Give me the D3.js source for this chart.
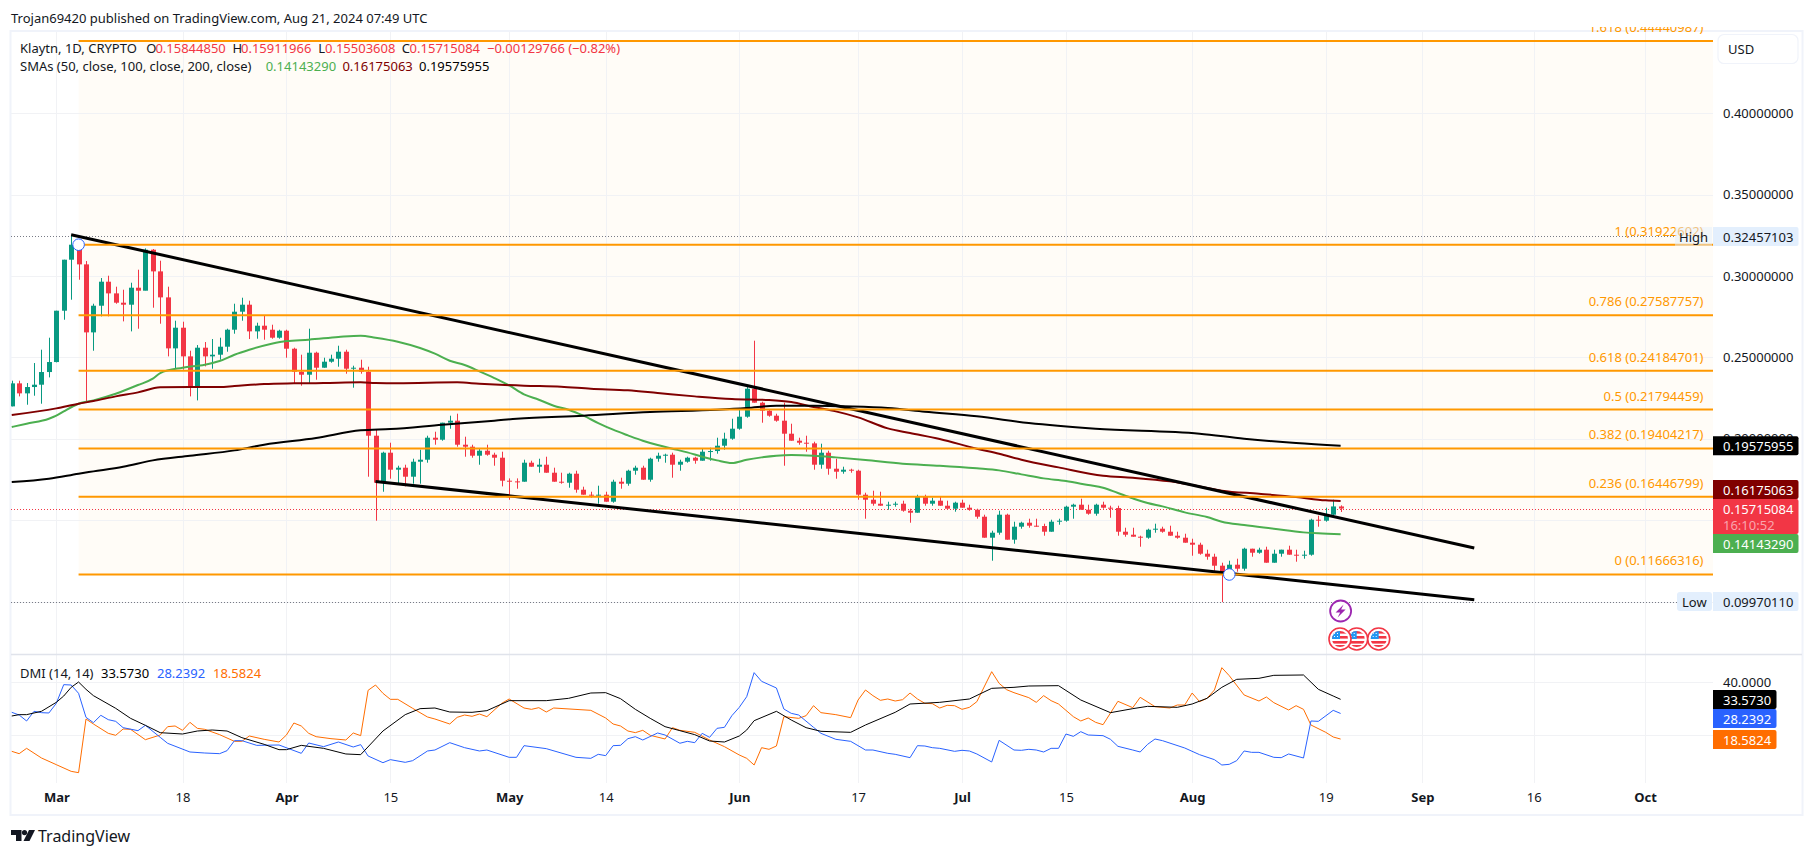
<!DOCTYPE html>
<html><head><meta charset="utf-8">
<script src="https://cdn.jsdelivr.net/npm/d3@7/dist/d3.min.js"></script>
<style>html,body{margin:0;padding:0;background:#fff}svg{display:block}text{font-family:"Noto Sans",Roboto,sans-serif;font-size:13px;fill:#131722}</style>
</head><body><div id="c"></div>
<script>
// ---------- data ----------
const firstCandleDate = "2024-02-24";
const firstOpen = 0.21992;
const closes = [.23405,.22791,.23180,.23323,.24101,.24715,.27868,.31001,.31922,.30714,.26537,.28175,.29650,.28933,.28360,.28237,.29281,.29097,.31615,.30284,.28687,.25555,.26824,.25063,.23200,.25596,.25063,.25166,.25657,.26701,.27807,.28237,.26599,.26947,.26701,.26210,.26640,.25534,.24121,.23937,.25288,.24367,.24736,.24920,.25350,.24306,.24367,.24121,.20190,.17303,.19146,.18102,.18225,.17672,.18593,.18716,.20067,.19944,.20989,.21112,.19637,.19515,.18962,.19269,.19023,.18839,.17426,.17385,.17365,.18532,.18286,.18409,.17917,.17365,.17303,.17856,.16873,.16566,.16525,.16566,.16136,.17365,.17242,.18040,.18225,.17487,.18777,.18962,.19023,.18409,.18593,.18839,.18655,.19207,.19248,.19576,.20006,.20620,.21357,.23077,.22217,.21726,.21419,.21112,.20313,.19883,.19760,.19719,.18409,.19146,.18163,.17979,.18102,.18040,.16566,.16259,.16013,.15890,.15952,.16013,.15583,.15460,.16443,.16013,.16198,.15890,.15706,.16075,.15768,.15645,.15215,.13925,.14232,.15338,.13802,.14601,.14846,.14662,.14642,.14293,.14908,.14969,.15829,.15952,.15645,.15399,.15952,.15768,.15747,.14293,.14109,.13986,.13925,.14416,.14478,.14293,.14048,.13925,.13618,.13495,.12942,.12758,.12205,.11795,.12266,.12021,.13249,.13003,.13188,.12389,.12942,.13188,.12881,.12860,.12881,.15030,.14969,.15338,.15845,.15715];
const highs = [.23569,.23569,.23425,.24654,.25473,.26210,.27868,.31001,.32457,.31922,.30919,.28298,.29875,.30018,.29343,.29158,.29588,.30387,.31697,.31656,.30940,.29343,.27254,.27193,.25411,.25759,.25944,.26128,.26210,.26763,.28298,.28667,.28483,.27131,.27561,.27008,.26701,.26701,.25596,.25166,.26763,.25350,.24981,.25166,.25718,.25473,.24490,.24858,.24429,.20600,.19207,.19760,.18347,.18409,.18777,.19330,.20190,.20436,.20989,.21419,.21542,.20129,.19637,.19392,.19637,.19146,.19207,.17569,.17569,.18716,.18655,.18777,.18900,.18225,.17917,.17917,.18040,.17058,.16750,.17119,.16750,.17487,.17610,.18102,.18347,.18347,.18839,.19146,.19085,.19146,.18716,.18900,.18900,.19392,.19453,.20067,.20374,.21234,.21787,.23200,.26026,.22279,.21787,.21542,.22217,.20927,.20067,.20190,.19822,.19699,.19269,.18777,.18286,.18163,.18102,.16689,.16812,.16750,.16136,.16136,.16198,.15706,.16566,.16566,.16382,.16443,.16198,.16136,.16259,.15952,.15706,.15338,.14355,.15583,.15399,.14908,.14908,.15092,.15092,.14785,.15030,.15092,.15890,.16013,.16320,.15952,.16013,.16136,.15890,.15890,.14539,.14539,.14048,.14478,.14785,.14601,.14662,.14293,.14170,.13863,.13618,.13188,.12942,.12389,.12512,.12635,.13310,.13249,.13310,.13372,.13188,.13188,.13433,.13188,.13126,.15092,.15276,.15768,.16259,.15912];
const lows = [.21992,.22606,.22094,.22647,.22156,.23773,.24695,.27315,.28544,.29772,.22299,.25411,.27520,.27520,.28298,.27213,.26599,.26763,.29117,.28053,.27070,.25063,.24306,.24244,.22606,.22360,.24449,.24306,.24858,.25350,.26456,.27254,.26128,.26148,.26087,.26148,.26148,.24981,.23384,.23261,.23405,.23630,.24367,.24674,.24429,.23999,.23139,.23999,.17672,.14969,.16750,.17549,.17180,.17078,.17242,.17242,.18532,.19637,.19883,.20620,.19515,.18900,.18839,.18409,.18962,.18347,.17078,.16259,.16935,.17365,.18286,.17917,.17917,.17365,.17242,.16996,.16689,.16566,.16382,.16013,.16136,.16075,.16935,.17119,.17795,.17487,.17365,.18593,.18532,.17610,.18040,.18532,.18470,.18655,.18655,.19085,.19330,.19944,.20559,.21296,.22217,.20989,.21357,.21050,.18347,.19883,.19637,.19207,.18102,.18163,.17795,.17549,.17856,.17917,.16259,.15092,.15890,.15890,.15645,.15829,.15522,.14846,.15460,.15890,.15890,.15890,.15706,.15522,.15768,.15583,.15092,.13925,.12512,.14109,.13802,.13556,.14478,.14539,.14601,.14048,.14293,.14723,.14908,.15092,.15645,.15338,.15276,.15706,.15153,.14048,.13986,.13986,.13372,.13863,.14232,.14232,.14048,.13863,.13618,.12819,.12881,.12574,.11898,.09970,.11857,.11836,.11898,.12758,.12942,.12389,.12389,.12758,.12881,.12451,.12635,.12819,.14601,.14908,.15276,.15504];

const sma50Days = [0,2,5,6,7,9,11,14,17,19,20,23,26,28,30,32,35,37,40,44,47,49,52,55,57,59,61,63,65,67,69,71,73,75,77,79,81,83,85,87,89,91,93,95,97,99,101,103,105,108,111,115,120,125,130,133,136,139,142,145,147,149,151,153,155,158,161,163,166,170,174,176,179];
const sma50Vals = [.20723,.20927,.21234,.21419,.21685,.22156,.22360,.22770,.23302,.23691,.24039,.24367,.24551,.24777,.25166,.25473,.25841,.26005,.26087,.26251,.26333,.26210,.25964,.25575,.25227,.24797,.24531,.24142,.23732,.23282,.22729,.22401,.22033,.21787,.21419,.20968,.20559,.20211,.19883,.19617,.19392,.19166,.18900,.18675,.18511,.18716,.18859,.18962,.19003,.18962,.18859,.18696,.18470,.18347,.18184,.18061,.17815,.17569,.17406,.17160,.16996,.16668,.16341,.16054,.15849,.15481,.15194,.14908,.14703,.14478,.14252,.14191,.14143];
const sma100Days = [0,6,9,11,14,17,20,24,28,30,34,38,42,47,49,52,60,63,69,74,78,83,87,92,97,102,105,108,111,114,118,121,125,130,133,136,141,147,151,156,160,163,168,173,177,179];
const sma100Vals = [.21460,.21869,.22156,.22320,.22606,.22852,.23159,.23180,.23180,.23241,.23364,.23405,.23425,.23466,.23425,.23405,.23466,.23384,.23261,.23200,.23077,.22975,.22811,.22606,.22442,.22381,.22258,.21951,.21685,.21316,.20641,.20354,.19985,.19392,.19085,.18716,.18245,.17733,.17610,.17385,.17078,.16812,.16628,.16423,.16218,.16175];
const sma200Days = [0,5,9,11,15,19,24,30,34,41,47,51,58,65,68,77,86,95,99,103,108,112,118,123,130,137,146,160,166,173,179];
const sma200Vals = [.17344,.17549,.17856,.17999,.18286,.18675,.18962,.19289,.19637,.20047,.20518,.20600,.20866,.21111,.21234,.21419,.21644,.21787,.21890,.22033,.22033,.21992,.21890,.21664,.21378,.20968,.20620,.20313,.20006,.19740,.19576];

const adxDays = [0,1,2,4,6,7,8,9,10,11,14,16,18,20,23,25,27,29,31,34,36,37,39,42,45,47,50,53,55,57,59,62,64,67,72,75,78,80,82,84,86,88,90,92,94,96,98,99,100,103,105,107,109,113,115,119,121,125,129,132,135,137,141,144,148,151,153,157,159,161,163,165,168,170,174,176,178,179];
const adxVals = [27.28,27.79,27.79,29.05,32.44,34.83,38.1,40.11,37.35,34.96,30.18,26.40,23.76,20.99,20.49,21.62,22.0,21.62,19.11,16.59,14.58,14.58,16.2,15.08,12.95,12.69,21.62,27.79,30.05,30.3,28.79,28.67,29.3,33.07,33.07,33.95,35.96,36.09,33.83,29.8,26.4,23.26,21.75,20.24,17.85,17.47,19.74,22.0,25.52,29.05,25.77,22.88,21.5,21.12,23.89,28.67,31.81,32.44,33.7,37.72,38.1,38.6,38.73,33.32,28.54,30.05,30.93,30.55,31.81,33.95,38.1,41.12,41.5,42.63,42.76,37.35,34.83,33.573];
const diPlusDays = [0,1,2,3,4,5,6,7,8,9,10,11,12,13,14,15,17,18,20,21,24,26,28,29,30,31,33,36,39,40,42,44,46,47,48,50,51,53,54,56,57,59,61,63,64,67,68,69,72,76,78,79,80,81,82,83,84,85,87,88,90,91,92,93,94,95,96,97,98,99,100,101,103,104,105,106,108,109,111,113,115,116,118,119,121,122,123,124,125,127,128,129,130,132,133,135,136,137,138,139,140,141,142,143,144,145,147,148,149,151,152,153,154,155,158,160,162,163,164,165,166,167,168,170,171,172,174,175,176,178,179];
const diPlusVals = [28.67,27.66,25.40,29.05,28.54,28.42,32.06,39.11,38.98,35.84,26.78,24.77,27.54,25.90,25.27,22.88,21.75,23.76,19.23,16.97,13.70,13.32,13.07,14.2,17.98,17.98,16.2,16.34,13.2,17.1,15.71,17.47,15.59,16.47,12.19,9.67,10.81,9.8,10.43,14.08,14.45,17.22,15.33,14.08,14.45,11.69,11.69,16.09,14.96,11.69,11.31,12.82,12.32,16.09,16.22,18.73,19.48,18.23,20.87,20.11,17.0,17.72,17.22,20.74,19.23,22.63,23.01,27.41,30.55,34.58,43.64,40.37,37.85,29.92,28.29,27.66,23.01,20.74,18.48,17.72,14.45,14.45,13.2,12.82,11.56,16.09,15.96,15.33,15.08,13.95,14.33,14.08,12.95,9.93,18.1,14.45,14.33,14.71,14.45,13.7,15.08,15.08,20.49,19.61,21.37,20.11,19.86,18.48,15.84,14.45,13.7,16.59,18.6,17.98,15.21,12.69,10.81,8.79,9.05,10.43,14.08,13.57,13.57,11.69,11.56,12.95,11.44,25.40,25.27,29.42,28.2392];
const diMinusDays = [0,1,2,4,6,8,9,10,11,13,14,15,16,18,20,21,22,23,24,25,26,28,30,31,32,34,36,37,38,39,40,41,43,45,46,47,48,49,50,51,52,54,56,57,59,60,61,62,63,64,66,67,69,70,71,72,73,78,80,81,82,83,84,85,86,88,89,90,92,94,96,98,99,100,101,102,103,104,106,107,108,109,111,113,114,115,116,117,118,119,120,121,122,123,124,125,126,127,128,129,130,132,133,134,135,137,138,139,140,141,143,144,145,146,147,149,151,152,154,156,157,158,159,160,161,162,163,164,166,168,169,170,172,173,174,175,177,178,179];
const diMinusVals = [13.95,13.07,15.08,11.44,8.92,6.4,5.9,26.15,24.27,20.74,19.99,22.38,22.25,18.35,20.11,23.26,23.51,21.88,24.89,22.63,22.25,20.24,17.72,17.72,19.74,18.48,17.47,20.11,24.64,23.51,20.74,19.48,18.73,18.23,20.87,19.86,36.97,38.98,35.84,33.57,33.57,30.18,26.91,26.15,24.27,26.78,27.66,27.16,28.04,27.03,32.06,33.7,30.3,29.8,30.43,28.79,30.3,29.42,26.53,24.27,23.51,21.62,21.0,21.88,19.99,18.61,22.88,21.88,21.12,18.23,15.71,12.57,11.31,8.79,15.33,14.71,15.96,27.03,26.4,27.41,31.18,28.54,27.79,26.66,33.32,37.1,34.96,33.2,33.7,32.94,33.45,35.96,33.7,32.06,31.94,30.3,31.31,31.18,29.8,30.55,32.69,44.01,39.61,37.22,36.09,34.2,32.44,34.96,33.07,31.81,27.03,25.4,26.53,24.89,24.01,32.82,30.43,34.33,30.81,30.3,31.43,31.43,35.96,32.69,33.95,37.1,45.52,42.5,35.21,32.94,34.45,32.32,29.55,31.18,29.8,23.89,21.12,19.36,18.5824];

const fibRatios = ["0","0.236","0.382","0.5","0.618","0.786","1","1.618"];
const fibPrices = [0.11666316,0.16446799,0.19404217,0.21794459,0.24184701,0.27587757,0.31922602,0.44440987];
const priceTicks = [0.40,0.35,0.30,0.25,0.20,0.15,0.10];
const dmiTicks = [40,20];
const timeTicks = ["2024-03-01","2024-03-18","2024-04-01","2024-04-15","2024-05-01","2024-05-14","2024-06-01","2024-06-17","2024-07-01","2024-07-15","2024-08-01","2024-08-19","2024-09-01","2024-09-16","2024-10-01"];
const trendUpper = [["2024-03-03",0.32537],["2024-09-08",0.13292]];
const trendLower = [["2024-04-13",0.17383],["2024-09-08",0.10117]];
const fibAnchors = [["2024-03-04",0.31922602],["2024-08-06",0.11666316]];
const priceHigh = 0.32457103, priceLow = 0.09970110, lastClose = 0.15715084;

// ---------- scales ----------
const W=1814,H=855,plotL=11,plotR=1713,plotT=32,paneB=654,timeB=783;
const parse=d3.utcParse("%Y-%m-%d");
const x=d3.scaleUtc().domain([parse("2024-03-01"),parse("2024-10-01")]).range([56.3,1645]);
const y=d3.scaleLinear().domain([0.30,0.25]).range([276,357.4]);
const yD=d3.scaleLinear().domain([40,20]).range([682.3,735.3]);
const day0=parse(firstCandleDate);
const dayDate=i=>d3.utcDay.offset(day0,i);
const candles=closes.map((c,i)=>({date:dayDate(i),o:i?closes[i-1]:firstOpen,c,h:highs[i],l:lows[i]}));

const svg=d3.select("#c").append("svg").attr("width",W).attr("height",H).attr("viewBox",`0 0 ${W} ${H}`);
const defs=svg.append("defs");
defs.append("clipPath").attr("id","plot").append("rect").attr("x",plotL).attr("y",plotT).attr("width",plotR-plotL).attr("height",paneB-plotT);
defs.append("clipPath").attr("id","dmi").append("rect").attr("x",plotL).attr("y",paneB).attr("width",plotR-plotL).attr("height",timeB-paneB);
defs.append("clipPath").attr("id","fibtext").append("rect").attr("x",plotL).attr("y",27).attr("width",plotR-plotL).attr("height",paneB-27);

const GRID="#f1f2f5", FIB="#ff9800", UP="#089981", DOWN="#f23645";
// fib background
svg.append("rect").attr("x",x(parse(fibAnchors[0][0]))).attr("y",y(fibPrices[7])).attr("width",plotR-x(parse(fibAnchors[0][0]))).attr("height",y(fibPrices[0])-y(fibPrices[7])).attr("fill","#fffcf7");
// grid
svg.append("g").selectAll("line").data(timeTicks).join("line").attr("x1",d=>Math.round(x(parse(d)))+.5).attr("x2",d=>Math.round(x(parse(d)))+.5).attr("y1",plotT).attr("y2",timeB).attr("stroke",GRID);
svg.append("g").selectAll("line").data(priceTicks).join("line").attr("x1",plotL).attr("x2",plotR).attr("y1",d=>Math.round(y(d))+.5).attr("y2",d=>Math.round(y(d))+.5).attr("stroke",GRID);
svg.append("g").selectAll("line").data(dmiTicks).join("line").attr("x1",plotL).attr("x2",plotR).attr("y1",d=>Math.round(yD(d))+.5).attr("y2",d=>Math.round(yD(d))+.5).attr("stroke",GRID);
// frame
svg.append("rect").attr("x",10.5).attr("y",31).attr("width",1792).attr("height",784).attr("fill","none").attr("stroke","#f0f3fa").attr("stroke-width",2);
svg.append("line").attr("x1",11).attr("x2",1802).attr("y1",654.5).attr("y2",654.5).attr("stroke","#e0e3eb").attr("stroke-width",1.5);

const plot=svg.append("g").attr("clip-path","url(#plot)");
// dotted high/low/last lines
const dot=(v,col,x2)=>plot.append("line").attr("x1",plotL).attr("x2",x2).attr("y1",Math.round(y(v))+.5).attr("y2",Math.round(y(v))+.5).attr("stroke",col).attr("stroke-dasharray","1 2");
dot(priceHigh,"#787b86",1675); dot(priceLow,"#787b86",1677); dot(lastClose,DOWN,plotR);
// candles
const cg=plot.append("g");
cg.selectAll(".w").data(candles).join("rect").attr("class","w").attr("x",d=>Math.round(x(d.date))).attr("width",1)
  .attr("y",d=>y(d.h)).attr("height",d=>y(d.l)-y(d.h)).attr("fill",d=>d.c>=d.o?UP:DOWN);
cg.selectAll(".b").data(candles).join("rect").attr("class","b").attr("x",d=>Math.round(x(d.date))-2).attr("width",5)
  .attr("y",d=>y(Math.max(d.o,d.c))).attr("height",d=>Math.max(1,Math.abs(y(d.o)-y(d.c)))).attr("fill",d=>d.c>=d.o?UP:DOWN);
// SMAs
const sLine=d3.line().x(d=>x(dayDate(d[0]))).y(d=>y(d[1])).curve(d3.curveMonotoneX);
[[sma50Days,sma50Vals,"#4caf50"],[sma100Days,sma100Vals,"#800000"],[sma200Days,sma200Vals,"#000000"]].forEach(([a,b,c])=>{
  plot.append("path").attr("d",sLine(a.map((d,i)=>[d,b[i]]))).attr("fill","none").attr("stroke",c).attr("stroke-width",2).attr("stroke-linejoin","round");
});
// trendlines
const tLine=d3.line().x(d=>x(parse(d[0]))).y(d=>y(d[1]));
[trendUpper,trendLower].forEach(t=>plot.append("path").attr("d",tLine(t)).attr("stroke","#000").attr("stroke-width",3).attr("fill","none"));
// fib lines and labels
const fx=x(parse(fibAnchors[0][0]));
plot.selectAll(".fl").data(fibPrices).join("line").attr("class","fl").attr("x1",fx).attr("x2",plotR).attr("y1",d=>y(d)).attr("y2",d=>y(d)).attr("stroke",FIB).attr("stroke-width",2);
svg.append("g").attr("clip-path","url(#fibtext)").selectAll(".ft").data(fibPrices).join("text").attr("class","ft").attr("x",1703.5).attr("y",d=>y(d)-14).attr("text-anchor","end").attr("dominant-baseline","central")
  .style("fill",FIB).style("font-size","13px").text((d,i)=>`${fibRatios[i]} (${d.toFixed(8)})`);
// anchors
plot.selectAll(".a").data(fibAnchors).join("circle").attr("class","a").attr("cx",d=>x(parse(d[0]))).attr("cy",d=>y(d[1])).attr("r",5.8).attr("fill","#fff").attr("stroke","#2962ff").attr("stroke-width",1);

// event icons
const marks=svg.append("g");
const lightningDay="2024-08-21";
const lx=x(parse(lightningDay));
marks.append("circle").attr("cx",lx).attr("cy",611).attr("r",10.5).attr("fill","#fff").attr("stroke","#9c27b0").attr("stroke-width",1.8);
marks.append("path").attr("transform",`translate(${lx},611)`).attr("d","M3,-6.5 L-5,1.5 L-0.5,1.5 L-3,6.5 L5,-1.5 L0.5,-1.5 Z").attr("fill","#9c27b0");
const flagX=[1356.7,1340,1378.7];
flagX.forEach((fxx,k)=>{
  const g=marks.append("g").attr("transform",`translate(${fxx},639)`);
  g.append("circle").attr("r",11).attr("fill","#fff").attr("stroke",DOWN).attr("stroke-width",1.6);
  defs.append("clipPath").attr("id","fl"+k).append("circle").attr("r",8);
  const f=g.append("g").attr("clip-path",`url(#fl${k})`);
  f.append("rect").attr("x",-9).attr("y",-9).attr("width",18).attr("height",18).attr("fill","#fff");
  [-8,-3,2,6].forEach(s=>f.append("rect").attr("x",-9).attr("y",s).attr("width",18).attr("height",2.6).attr("fill",DOWN));
  f.append("rect").attr("x",-9).attr("y",-9).attr("width",9).attr("height",9).attr("fill","#2196f3");
  [-6,-3].forEach(a=>[-6,-3].forEach(b=>f.append("rect").attr("x",a).attr("y",b).attr("width",1).attr("height",1).attr("fill","#fff")));
});

// DMI
const dmiG=svg.append("g").attr("clip-path","url(#dmi)");
const dLine=d3.line().x(d=>x(dayDate(d[0]))).y(d=>yD(d[1]));
[[adxDays,adxVals,"#000000"],[diPlusDays,diPlusVals,"#2962ff"],[diMinusDays,diMinusVals,"#ff6d00"]].reverse().forEach(([a,b,c])=>{
  dmiG.append("path").attr("d",dLine(a.map((d,i)=>[d,b[i]]))).attr("fill","none").attr("stroke",c).attr("stroke-width",1).attr("stroke-linejoin","round");
});

// axes
const AF='"Noto Sans",Roboto,sans-serif';
const fmtT=dt=>dt.getUTCDate()===1?d3.utcFormat("%b")(dt):String(dt.getUTCDate());
const tAxis=d3.axisBottom(x).tickValues(timeTicks.map(parse)).tickSize(0).tickPadding(0).tickFormat(fmtT);
const tg=svg.append("g").attr("transform","translate(0,793)").call(tAxis);
tg.select(".domain").remove();
tg.selectAll("text").style("font-size","13px").style("font-family",AF).style("font-weight",d=>d.getUTCDate()===1?"700":"400").style("fill","#131722");
const pAxis=d3.axisRight(y).tickValues(priceTicks).tickSize(0).tickPadding(10).tickFormat(d=>d.toFixed(8));
const pg=svg.append("g").attr("transform",`translate(${plotR},0)`).call(pAxis);
pg.select(".domain").remove();
pg.selectAll("text").style("font-size","13px").style("font-family",AF).style("fill","#131722");
const dAxis=d3.axisRight(yD).tickValues([40]).tickSize(0).tickPadding(10).tickFormat(d=>d.toFixed(4));
const dg=svg.append("g").attr("transform",`translate(${plotR},0)`).call(dAxis);
dg.select(".domain").remove();
dg.selectAll("text").style("font-size","13px").style("font-family",AF).style("fill","#131722");

// helper text
const T=(s,xx,yy,col="#131722",o={})=>svg.append("text").attr("x",xx).attr("y",yy).attr("dominant-baseline","central").style("fill",col).style("font-size",(o.size||13)+"px").style("font-weight",o.w||400).attr("text-anchor",o.a||"start").text(s);

// axis tags
const tag=(yc,h,col,label,txt,right,sub)=>{
  const t=yc-h/2;
  svg.append("path").attr("d",`M1713,${t} H${right-2} Q${right},${t} ${right},${t+2} V${t+h-2} Q${right},${t+h} ${right-2},${t+h} H1713 Z`).attr("fill",col);
  T(label,1723,sub?yc-8:yc,txt);
  if(sub) T(sub,1723,yc+8,"#f9a5ad");
};
tag(236.5,19,"#e3effd",priceHigh.toFixed(8),"#131722",1798.5);
tag(601.5,19,"#e3effd",priceLow.toFixed(8),"#131722",1798.5);
tag(445.7,19,"#000000","0.19575955","#fff",1798.5);
tag(489.5,19,"#800000","0.16175063","#fff",1798.5);
tag(516.5,35,DOWN,"0.15715084","#fff",1798.5,"16:10:52");
tag(543.5,19,"#4caf50","0.14143290","#fff",1798.5);
tag(699.5,19,"#000000","33.5730","#fff",1776.5);
tag(718.5,19,"#2962ff","28.2392","#fff",1776.5);
tag(739.5,19,"#ff6d00","18.5824","#fff",1776.5);
// High / Low labels
svg.append("rect").attr("x",1675).attr("y",227).attr("width",37).attr("height",19).attr("fill","#e3effd").attr("opacity",.5);
T("High",1679,236.5);
svg.append("rect").attr("x",1677).attr("y",592).attr("width",35).attr("height",19).attr("rx",3).attr("fill","#e3effd");
T("Low",1682,601.5);
// USD button
svg.append("rect").attr("x",1718).attr("y",34.5).attr("width",80).attr("height",29).attr("rx",6).attr("fill","#fff").attr("stroke","#f0f3fa").attr("stroke-width",1.2);
T("USD",1728,49);
// header
T("Trojan69420 published on TradingView.com, Aug 21, 2024 07:49 UTC",11,17.5);
const R=DOWN;
T("Klaytn, 1D, CRYPTO",20,47.5);
T("O",146.3,47.5);T("0.15844850",155.4,47.5,R);
T("H",232.5,47.5);T("0.15911966",241,47.5,R);
T("L",318.3,47.5);T("0.15503608",325,47.5,R);
T("C",401.7,47.5);T("0.15715084",409.6,47.5,R);
T("\u22120.00129766 (\u22120.82%)",487,47.5,R);
T("SMAs (50, close, 100, close, 200, close)",20,66);
T("0.14143290",265.7,66,"#4caf50");T("0.16175063",342.4,66,"#800000");T("0.19575955",419,66,"#000");
T("DMI (14, 14)",20,672.7);
T("33.5730",101,672.7,"#000");T("28.2392",157,672.7,"#2962ff");T("18.5824",213,672.7,"#ff6d00");
// logo
const logo=svg.append("g").attr("fill","#131722");
logo.append("path").attr("d","M11,830 H21.5 V841 H16 V835 H11 Z");
logo.append("circle").attr("cx",24.5).attr("cy",832.6).attr("r",2.6);
logo.append("path").attr("d","M29,830 H35 L29.5,841 H23.5 Z");
T("TradingView",38,836,"#131722",{size:16});
</script></body></html>
